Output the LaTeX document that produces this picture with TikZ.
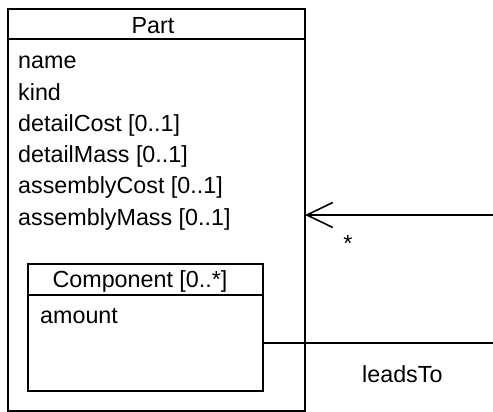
\documentclass[tikz,border=0pt]{standalone}
\usepackage{fontspec}
\setmainfont{Liberation Sans}
\usetikzlibrary{arrows.meta}
\begin{document}
\begin{tikzpicture}[x=1pt,y=-1pt,
    umlbox/.style={draw,black,line width=1.6pt,inner sep=0pt,outer sep=0pt,anchor=north west},
    umltext/.style={inner sep=0pt,font=\fontsize{23.3}{28}\selectfont},
    umlline/.style={black,line width=1.6pt}]
    \useasboundingbox (0,0) rectangle (493,412);
    % class Part
    \node [umlbox,minimum width=297pt,minimum height=402pt] (part) at (8,9) {};
    \draw [umlline] ([yshift=-30pt]part.north west) -- ([yshift=-30pt]part.north east);
    \node [umltext,anchor=base] (parttitle) at (153,34) {Part};
    \foreach \attr [count=\i] in {{name},{kind},{detailCost [0..1]},{detailMass [0..1]},{assemblyCost [0..1]},{assemblyMass [0..1]}}
        \node [umltext,anchor=base west] (attr\i) at (18,{69+31.2*(\i-1)}) {\attr};
    % part Component
    \node [umlbox,minimum width=235pt,minimum height=127pt] (comp) at (28,264) {};
    \draw [umlline] ([yshift=-31pt]comp.north west) -- ([yshift=-31pt]comp.north east);
    \node [umltext,anchor=base] (comptitle) at (140,287) {Component [0..*]};
    \node [umltext,anchor=base west] (amount) at (40,323) {amount};
    % associations
    \coordinate (assocend) at (493,215);
    \draw [umlline,-{Straight Barb[length=26pt,width=25pt]}] (assocend) -- (part.east |- assocend);
    \node [umltext,anchor=base] (mult) at (348,251) {*};
    \coordinate (leadsend) at (493,343);
    \draw [umlline] (comp.east |- leadsend) -- (leadsend);
    \node [umltext,anchor=base west] (leadsto) at (362,382) {leadsTo};
\end{tikzpicture}
\end{document}
